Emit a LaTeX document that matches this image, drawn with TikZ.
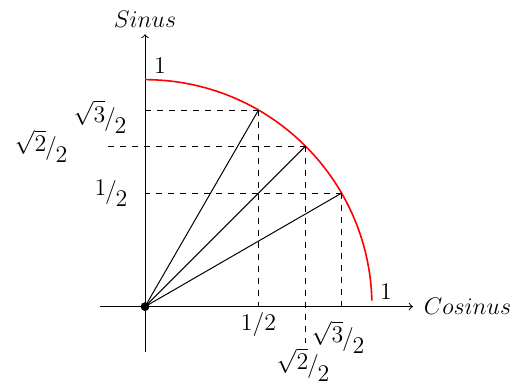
\documentclass[tikz,border=0pt]{standalone}
\newcommand{\hfr}[2]{\raisebox{.3ex}{$#1$}\kern-.05em/\kern-.05em\raisebox{-.8ex}{$#2$}}
\begin{document}
\begin{tikzpicture}[x=4cm, y=4cm,
  ray/.style={line width=0.5pt},
  guide/.style={dashed, line width=0.5pt},
  arcline/.style={red, thick}
]
\useasboundingbox (-0.639,-0.345) rectangle (1.683,1.351);
\coordinate (O) at (0,0);
\coordinate (xs) at (-0.2,0);
\coordinate (xe) at (1.18,0);
\coordinate (ys) at (0,-0.2);
\coordinate (ye) at (0,1.2);
\coordinate (top) at (0,1);
\draw[->, line width=0.5pt] (xs) -- (xe) node[right, xshift=2pt] (cos) {\large$Cosinus$};
\draw[->, line width=0.5pt] (ys) -- (ye) node[above] (sin) {\large$Sinus$};
\draw[arcline] (top) arc[start angle=90, end angle=1.5, radius=1];
\foreach \a in {30,45,60} {
  \coordinate (p\a) at (\a:1);
  \coordinate (px\a) at (p\a |- O);
  \coordinate (py\a) at (p\a -| O);
  \draw[ray] (O) -- (p\a);
}
\coordinate (b45) at (p45 |- 0,-0.16);
\coordinate (l45) at (p45 -| -0.17,0);
\draw[guide] (p30) -- (px30) (p30) -- (py30);
\draw[guide] (p60) -- (px60) (p60) -- (py60);
\draw[guide] (p45) -- (b45) (p45) -- (l45);
\fill (O) circle[radius=2.2pt];
% labels
\node (l1y) at (0.066,1.06) {\large$1$};
\node (l1x) at (1.062,0.065) {\large$1$};
\node (lx60) at (0.5,-0.08) {\large$1/2$};
\node (lx45) at (0.696,-0.256) {\large\hfr{\sqrt{2}}{2}};
\node (lx30) at (0.85,-0.134) {\large\hfr{\sqrt{3}}{2}};
\node (ly60) at (-0.198,0.836) {\large\hfr{\sqrt{3}}{2}};
\node (ly45) at (-0.458,0.707) {\large\hfr{\sqrt{2}}{2}};
\node (ly30) at (-0.15,0.5) {\large\hfr{1}{2}};
\end{tikzpicture}
\end{document}
